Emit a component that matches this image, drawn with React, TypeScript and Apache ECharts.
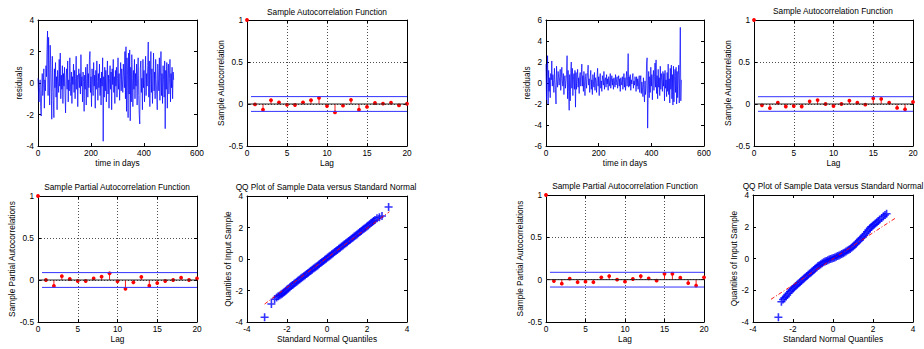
import React, { useEffect, useRef } from "react";
import * as echarts from "echarts";

// ---------- data ----------
const DAY_STEP = 2;
const residualLeft = [
  0.3, -0.6, -1.2, -0.3, 0.2, -1.5, -2.1, -0.4, 0.6, -0.8, -0.1, 0.9, -1.6, 0.2, -0.5, 1.1,
  0.4, 2.1, 3.3, -0.8, 2.9, 0.6, -1.4, 2.4, 1.2, -0.6, -2.3, 1.7, 0.2, -1.1, -2.2, 0.9,
  -0.3, 1.3, -0.9, 0.4, -1.7, 0.8, 0.1, -0.6, 1.5, -0.2, 1.9, -1.0, 0.5, -0.4, 1.1, -1.3,
  0.6, -0.2, 1.0, -0.7, -1.9, 0.3, 0.9, -0.4, 1.4, -1.2, 0.2, -0.5, 1.6, 0.1, -0.8, 0.7,
  -1.3, 0.4, -0.1, 1.2, -0.6, 0.8, -1.0, 0.3, 1.7, -0.4, 0.5, -1.5, 0.2, 0.9, -0.3, 0.6,
  -0.7, 1.8, -0.2, 0.4, -1.2, 0.7, 0.1, -1.8, 0.5, -0.4, 1.0, -1.4, 0.3, 1.2, -0.9, 0.6,
  -0.3, 1.5, 2.0, -0.6, 0.4, -1.5, 0.9, 0.2, -0.8, 1.3, -0.2, 0.5, -1.6, 0.8, -0.4, 1.4,
  0.1, -1.1, 0.6, -0.3, 1.2, -0.8, 0.3, -1.4, 0.7, -0.2, 1.6, -3.7, 0.4, -0.9, 1.0, -0.5,
  0.8, -1.2, 0.2, 1.4, -0.7, 0.5, -1.6, 0.3, 1.1, -0.4, 0.7, -1.7, 0.9, -0.1, 1.5, -0.6,
  0.4, -1.3, 0.8, -0.2, 1.0, -0.9, 0.3, 1.6, -0.4, 0.6, -1.1, 0.2, 1.3, -0.5, 0.9, 0.2,
  -0.6, 1.2, 0.4, -0.3, 2.0, -1.0, 2.3, -1.8, 1.6, 0.5, -2.2, 1.9, -0.7, 2.1, -2.4, 1.0,
  -1.2, 1.8, 0.3, -1.5, 0.8, -0.4, 1.5, -1.0, 0.6, -0.2, 1.2, -1.4, 0.5, 1.6, -0.8, -2.0,
  -2.6, 0.9, 1.4, -0.6, 0.3, -1.7, 1.5, -0.3, 0.8, -1.2, 0.2, 1.7, -0.8, 0.6, -0.2, 1.1,
  2.6, -0.9, 1.4, -1.5, 0.5, 2.0, -0.6, 0.9, -1.3, 0.3, 1.9, -0.5, 0.7, -1.0, 1.5, 0.2,
  -0.7, -1.7, 1.2, 0.3, -0.5, 1.6, -1.1, 0.4, 2.0, -0.8, 0.6, -1.3, 1.1, 0.2, -0.9, 1.4,
  -2.9, 0.8, -0.4, 1.3, -1.6, 0.5, 1.2, -0.7, 0.3, 1.5, -1.2, 0.6, -0.3, 1.0, -1.0, 0.7,
  0.2,
];
const residualRight = [
  1.8, -1.6, 0.4, 2.6, -2.0, 1.2, -0.8, 0.5, -1.4, 0.9, 0.3, 2.1, -0.3, 0.8, 0.2, -0.9,
  1.4, 0.1, -0.6, -2.0, 1.6, 0.3, -0.4, 1.1, 0.5, -0.2, 0.6, 1.3, -0.7, 0.4, 1.5, 0.2,
  -0.3, 0.9, -1.1, 0.4, 0.7, -0.5, 0.2, 0.8, 2.6, -1.5, 1.2, -0.8, -2.6, 0.8, -1.7, 1.0,
  2.0, -0.5, 1.4, -1.2, 0.3, 0.9, -0.6, 1.2, -2.3, 1.0, -0.6, 0.5, 1.3, -0.4, 0.5, -1.0,
  0.7, 1.0, -0.3, 0.6, 1.8, -0.3, 0.7, -0.8, 1.1, 0.0, -1.2, 0.6, 0.9, -0.5, 0.3, 1.0,
  1.7, -0.2, 0.4, -0.9, 0.6, 1.2, -0.6, 0.3, -1.1, 0.8, 0.1, -0.4, 1.0, -0.7, 0.5, 0.2,
  -0.9, 0.6, 1.4, -0.3, 0.6, -1.2, 0.4, 0.9, -0.5, 0.2, -0.8, 0.7, 0.3, -0.2, 1.1, -0.6,
  0.3, 0.5, -0.4, 0.8, -0.1, 0.4, -0.7, 0.6, 0.2, -0.3, 0.9, -0.5, 0.1, 0.7, -0.2, 0.4,
  -0.6, 0.5, 0.1, -0.4, 0.8, -0.2, 0.3, 0.6, -0.5, 0.2, 0.7, -0.3, 0.4, -0.8, 0.5, 0.1,
  -0.2, 0.6, -0.6, 0.3, 0.9, -0.4, 0.5, -0.7, 0.2, 1.1, -0.3, 0.6, 2.8, -0.4, 0.6, -0.3,
  0.8, -0.7, 0.3, -0.1, 0.5, 0.9, -0.5, 0.2, -0.2, 0.6, 0.3, -0.8, 0.6, -0.3, 0.4, -0.6,
  0.2, 0.7, -0.9, 0.3, 0.7, -1.0, 0.1, -0.4, -1.3, 0.5, -0.6, -1.8, 0.2, -1.1, -0.5, 1.9,
  2.4, -4.3, -1.0, 1.1, -1.4, 0.6, -0.9, 1.5, -0.3, 0.8, -1.6, 0.4, 1.2, -0.7, 0.6, 1.9,
  -0.4, 2.2, -1.0, 0.7, -1.5, 1.3, -0.4, 0.5, -1.2, 1.6, -0.6, 0.9, 0.2, -0.8, 1.1, -0.3,
  0.9, -1.7, 1.2, -0.5, 0.3, -1.3, 1.0, -0.8, 1.8, -1.1, 0.4, -1.9, 1.4, -0.6, 1.7, -1.5,
  0.8, -2.1, 1.6, -1.8, 0.6, 1.3, -0.9, 1.5, -2.0, 1.1, -1.4, 0.7, 1.7, -1.9, 1.2, 5.3,
  -1.7, 0.3,
];

const lags = [0, 1, 2, 3, 4, 5, 6, 7, 8, 9, 10, 11, 12, 13, 14, 15, 16, 17, 18, 19, 20];
const acfLeft = [1, -0.005, -0.068, 0.045, 0.02, -0.01, -0.012, 0.02, 0.045, 0.072, -0.025, -0.1, -0.02, 0.05, -0.068, -0.035, 0.012, 0.004, 0.015, -0.017, 0.003];
const pacfLeft = [1, 0.0, -0.07, 0.045, 0.012, -0.012, -0.012, 0.02, 0.04, 0.08, -0.016, -0.105, -0.028, 0.036, -0.068, -0.036, -0.012, 0.0, 0.028, 0.0, 0.02];
const acfRight = [1, -0.016, -0.05, 0.016, -0.03, -0.024, -0.03, 0.032, 0.047, 0.0, -0.024, 0.0, 0.04, 0.016, -0.008, 0.067, 0.06, 0.016, -0.047, -0.063, 0.024];
const pacfRight = [1, -0.016, -0.047, 0.012, -0.03, -0.024, -0.03, 0.028, 0.043, 0.0, -0.024, 0.008, 0.043, 0.016, -0.012, 0.07, 0.07, 0.024, -0.04, -0.07, 0.028];
const boundLeft = 0.088;
const boundRight = 0.087;
const boundStartLag = 0.5;

const qqLeftX = [
  -3.12, -2.78, -2.62, -2.52, -2.44, -2.37, -2.30, -2.24, -2.18, -2.12, -2.06, -2.00, -1.93, -1.86, -1.79,
  -1.72, -1.65, -1.58, -1.51, -1.44, -1.37, -1.30, -1.23, -1.16, -1.09, -1.02, -0.95, -0.88, -0.81, -0.74,
  -0.67, -0.60, -0.53, -0.46, -0.39, -0.32, -0.25, -0.18, -0.11, -0.04, 0.03, 0.10, 0.17, 0.24, 0.31,
  0.38, 0.45, 0.52, 0.59, 0.66, 0.73, 0.80, 0.87, 0.94, 1.01, 1.08, 1.15, 1.22, 1.29, 1.36,
  1.43, 1.50, 1.57, 1.64, 1.71, 1.78, 1.85, 1.92, 1.99, 2.06, 2.13, 2.20, 2.27, 2.33, 2.40,
  2.50, 2.62, 2.75, 3.08,
];
const qqLeftY = [
  -3.70, -2.86, -2.56, -2.44, -2.36, -2.31, -2.26, -2.21, -2.15, -2.08, -2.01, -1.94, -1.87, -1.80, -1.72,
  -1.65, -1.57, -1.50, -1.44, -1.37, -1.30, -1.22, -1.16, -1.10, -1.03, -0.96, -0.89, -0.81, -0.75, -0.68,
  -0.61, -0.54, -0.47, -0.41, -0.33, -0.26, -0.19, -0.12, -0.05, 0.02, 0.09, 0.16, 0.22, 0.30, 0.37,
  0.44, 0.51, 0.57, 0.65, 0.72, 0.79, 0.86, 0.93, 1.00, 1.07, 1.14, 1.21, 1.28, 1.35, 1.43,
  1.49, 1.56, 1.63, 1.71, 1.78, 1.85, 1.92, 1.99, 2.06, 2.13, 2.21, 2.28, 2.35, 2.41, 2.48,
  2.58, 2.65, 2.73, 3.30,
];
const qqRightX = [
  -2.73, -2.58, -2.50, -2.43, -2.36, -2.29, -2.22, -2.15, -2.08, -2.01, -1.94, -1.87, -1.80, -1.73, -1.66,
  -1.59, -1.52, -1.45, -1.38, -1.31, -1.24, -1.17, -1.10, -1.03, -0.96, -0.89, -0.82, -0.75, -0.68, -0.61,
  -0.54, -0.47, -0.40, -0.33, -0.26, -0.19, -0.12, -0.05, 0.02, 0.09, 0.16, 0.23, 0.30, 0.37, 0.44,
  0.51, 0.58, 0.65, 0.72, 0.79, 0.86, 0.93, 1.00, 1.07, 1.14, 1.21, 1.28, 1.35, 1.42, 1.49,
  1.56, 1.63, 1.70, 1.77, 1.84, 1.91, 1.98, 2.05, 2.12, 2.19, 2.26, 2.33, 2.43, 2.52, 2.60, 2.68,
];
const qqRightY = [
  -3.70, -2.72, -2.58, -2.48, -2.40, -2.30, -2.19, -2.08, -1.99, -1.90, -1.82, -1.74, -1.66, -1.58, -1.50,
  -1.42, -1.34, -1.26, -1.18, -1.10, -1.03, -0.95, -0.88, -0.80, -0.72, -0.64, -0.56, -0.48, -0.42, -0.36,
  -0.30, -0.24, -0.19, -0.15, -0.11, -0.07, -0.03, 0.00, 0.03, 0.07, 0.11, 0.15, 0.19, 0.23, 0.28,
  0.33, 0.38, 0.44, 0.50, 0.55, 0.60, 0.67, 0.75, 0.84, 0.93, 1.01, 1.10, 1.19, 1.28, 1.36,
  1.46, 1.57, 1.68, 1.79, 1.90, 1.99, 2.06, 2.13, 2.20, 2.28, 2.36, 2.44, 2.55, 2.66, 2.74, 2.82,
];
const qqRefLeftX = [-3.12, 3.12];
const qqRefLeftY = [-2.86, 3.0];
const qqRefRightX = [-3.1, 3.13];
const qqRefRightY = [-2.57, 2.55];

const residualTicksLeft = { min: -4, max: 4, interval: 2 };
const residualTicksRight = { min: -6, max: 6, interval: 2 };
const dayTicks = { min: 0, max: 600, interval: 200 };
const lagTicks = { min: 0, max: 20, interval: 5 };
const corrTicks = { min: -0.5, max: 1, interval: 0.5 };
const qqTicks = { min: -4, max: 4, interval: 2 };

// ---------- styling helpers ----------
const FONT = "'Liberation Sans', Arial, Helvetica, sans-serif";
const FS = 8.3;
const txt = { color: "#000", fontSize: FS, fontFamily: FONT };

type Rng = { min: number; max: number; interval: number };

function axesFor(
  gi: number,
  xr: Rng,
  yr: Rng,
  xName: string,
  xGap: number,
  yName: string,
  yGap: number,
  gridLines: boolean
) {
  const line = { show: true, onZero: false, lineStyle: { color: "#000", width: 1 } };
  const tick = { show: true, inside: true, length: 3, lineStyle: { color: "#000", width: 1 } };
  const split = { show: gridLines, lineStyle: { color: "#000", width: 0.7, type: [1, 2] } };
  const xs = [
    {
      type: "value", gridIndex: gi, ...xr, position: "bottom",
      axisLine: line, axisTick: tick, splitLine: split,
      axisLabel: { ...txt, margin: 3 },
      name: xName, nameLocation: "middle", nameGap: xGap, nameTextStyle: txt,
    },
    {
      type: "value", gridIndex: gi, ...xr, position: "top",
      axisLine: line, axisTick: tick, splitLine: { show: false }, axisLabel: { show: false },
    },
  ];
  const ys = [
    {
      type: "value", gridIndex: gi, ...yr, position: "left",
      axisLine: line, axisTick: tick, splitLine: split,
      axisLabel: { ...txt, margin: 4 },
      name: yName, nameLocation: "middle", nameGap: yGap, nameTextStyle: txt,
    },
    {
      type: "value", gridIndex: gi, ...yr, position: "right",
      axisLine: line, axisTick: tick, splitLine: { show: false }, axisLabel: { show: false },
    },
  ];
  return { xs, ys };
}

const stemRender = (params: any, api: any) => {
  const lag = api.value(0);
  const v = api.value(1);
  const p0 = api.coord([lag, 0]);
  const p1 = api.coord([lag, v]);
  const children: any[] = [];
  if (lag !== 0) {
    children.push({
      type: "line",
      shape: { x1: p0[0], y1: p0[1], x2: p1[0], y2: p1[1] },
      style: { stroke: "#ff0000", lineWidth: 0.9 },
    });
  }
  children.push({ type: "circle", shape: { cx: p1[0], cy: p1[1], r: 1.9 }, style: { fill: "#ff0000" } });
  return { type: "group", children };
};

function corrSeries(gi: number, vals: number[], bound: number) {
  const ax = { xAxisIndex: gi * 2, yAxisIndex: gi * 2 };
  const last = lags[lags.length - 1];
  return [
    {
      type: "line", ...ax, symbol: "none", silent: true,
      data: [[lags[0], 0], [last, 0]],
      lineStyle: { color: "#222", width: 1 },
    },
    {
      type: "line", ...ax, symbol: "none", silent: true,
      data: [[boundStartLag, bound], [last, bound]],
      lineStyle: { color: "#3333ff", width: 1 },
    },
    {
      type: "line", ...ax, symbol: "none", silent: true,
      data: [[boundStartLag, -bound], [last, -bound]],
      lineStyle: { color: "#3333ff", width: 1 },
    },
    {
      type: "custom", ...ax, renderItem: stemRender, clip: false,
      data: lags.map((l, i) => [l, vals[i]]),
    },
  ];
}

const PLUS = "path://M4,0H6V4H10V6H6V10H4V6H0V4H4Z";

function qqSeries(gi: number, xs: number[], ys: number[], rx: number[], ry: number[]) {
  const ax = { xAxisIndex: gi * 2, yAxisIndex: gi * 2 };
  return [
    {
      type: "line", ...ax, symbol: "none", silent: true,
      data: rx.map((x, i) => [x, ry[i]]),
      lineStyle: { color: "#ff0000", width: 0.9, type: [4, 2, 1, 2] },
    },
    {
      type: "scatter", ...ax, symbol: PLUS, symbolSize: 8, silent: true,
      data: xs.map((x, i) => [x, ys[i]]),
      itemStyle: { color: "#0000ff", opacity: 0.8 },
    },
  ];
}

function residualSeries(gi: number, vals: number[]) {
  return {
    type: "line", xAxisIndex: gi * 2, yAxisIndex: gi * 2, symbol: "none", silent: true,
    data: vals.map((v, i) => [i * DAY_STEP, v]),
    lineStyle: { color: "#0000ff", width: 0.7 },
  };
}

function title(text: string, x: number, y: number) {
  return {
    type: "text", x, y, silent: true,
    style: {
      text, fill: "#000", fontSize: FS, fontFamily: FONT,
      align: "center", verticalAlign: "middle",
      textAlign: "center", textVerticalAlign: "middle",
    },
  };
}

function buildOption() {
  const grids = [
    { left: 38, top: 20, width: 159, height: 126 },
    { left: 247, top: 20, width: 160, height: 126 },
    { left: 38, top: 196, width: 159, height: 126 },
    { left: 247, top: 196, width: 160, height: 126 },
    { left: 546, top: 20, width: 158, height: 126 },
    { left: 754, top: 20, width: 159, height: 126 },
    { left: 546, top: 195, width: 158, height: 127 },
    { left: 753, top: 195, width: 160, height: 127 },
  ];
  const specs = [
    axesFor(0, dayTicks, residualTicksLeft, "time in days", 13, "residuals", 13, false),
    axesFor(1, lagTicks, corrTicks, "Lag", 13, "Sample Autocorrelation", 20, true),
    axesFor(2, lagTicks, corrTicks, "Lag", 13, "Sample Partial Autocorrelations", 21, true),
    axesFor(3, qqTicks, qqTicks, "Standard Normal Quantiles", 13, "Quantiles of Input Sample", 13, false),
    axesFor(4, dayTicks, residualTicksRight, "time in days", 13, "residuals", 12, false),
    axesFor(5, lagTicks, corrTicks, "Lag", 13, "Sample Autocorrelation", 20, true),
    axesFor(6, lagTicks, corrTicks, "Lag", 13, "Sample Partial Autocorrelations", 21, true),
    axesFor(7, qqTicks, qqTicks, "Standard Normal Quantiles", 13, "Quantiles of Input Sample", 12, false),
  ];
  return {
    animation: false,
    backgroundColor: "#fff",
    textStyle: { fontFamily: FONT },
    grid: grids.map((g) => ({ ...g, containLabel: false })),
    xAxis: specs.flatMap((s) => s.xs),
    yAxis: specs.flatMap((s) => s.ys),
    series: [
      residualSeries(0, residualLeft),
      ...corrSeries(1, acfLeft, boundLeft),
      ...corrSeries(2, pacfLeft, boundLeft),
      ...qqSeries(3, qqLeftX, qqLeftY, qqRefLeftX, qqRefLeftY),
      residualSeries(4, residualRight),
      ...corrSeries(5, acfRight, boundRight),
      ...corrSeries(6, pacfRight, boundRight),
      ...qqSeries(7, qqRightX, qqRightY, qqRefRightX, qqRefRightY),
    ],
    graphic: [
      title("Sample Autocorrelation Function", 327, 12),
      title("Sample Partial Autocorrelation Function", 117, 187),
      title("QQ Plot of Sample Data versus Standard Normal", 326, 187),
      title("Sample Autocorrelation Function", 833, 11),
      title("Sample Partial Autocorrelation Function", 625, 186),
      title("QQ Plot of Sample Data versus Standard Normal", 833, 186),
    ],
  };
}

export default function App() {
  const ref = useRef<HTMLDivElement>(null);
  useEffect(() => {
    if (!ref.current) return;
    const chart = echarts.init(ref.current, undefined, { renderer: "svg" });
    chart.setOption(buildOption() as any);
    return () => chart.dispose();
  }, []);
  return (
    <div
      ref={ref}
      style={{ position: "fixed", left: 0, top: 0, width: 924, height: 349, background: "#fff" }}
    />
  );
}
